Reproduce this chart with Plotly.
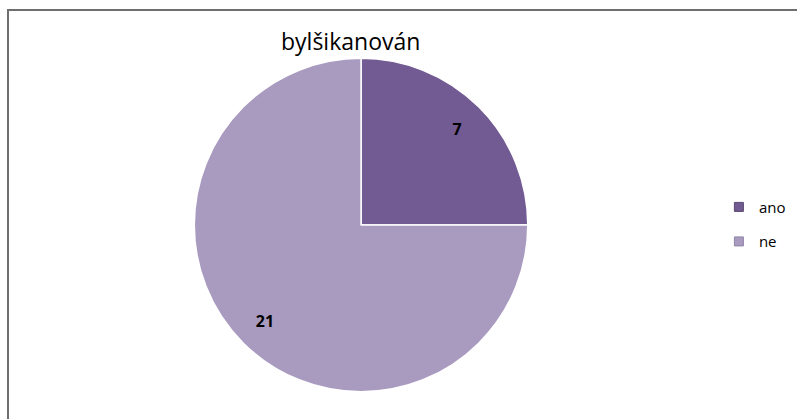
import plotly.graph_objects as go

categories = ["ano", "ne"]
values = [7, 21]
colors = ["#725A92", "#A99BC0"]
title_text = "bylšikanován"

fig = go.Figure()

dom = dict(x=[0.24, 0.666], y=[0.065, 0.861])

# main pie
fig.add_trace(go.Pie(
    labels=categories, values=values, sort=False, direction="clockwise",
    rotation=0, marker=dict(colors=colors, line=dict(color="white", width=1.5)),
    textinfo="none", hoverinfo="label+value", showlegend=False,
    domain=dom,
))

# label ring (transparent) to place the value labels near the outer edge
fig.add_trace(go.Pie(
    labels=categories, values=values, sort=False, direction="clockwise",
    rotation=0, hole=0.63,
    marker=dict(colors=["rgba(0,0,0,0)"] * len(values), line=dict(width=0)),
    textinfo="value", textposition="inside", insidetextorientation="horizontal",
    textfont=dict(family="Open Sans", size=16, color="black", weight="bold"),
    hoverinfo="skip", showlegend=False,
    domain=dom,
))

# legend entries
for i, (c, col) in enumerate(zip(categories, colors)):
    fig.add_trace(go.Scatter(
        x=[None], y=[None], mode="markers", name=c, legendgroup=c,
        marker=dict(symbol="square", size=9, color=col,
                    line=dict(color="#5a4a70" if i == 0 else "#8f84a8", width=1)),
    ))

fig.update_layout(
    width=797, height=419,
    margin=dict(l=0, r=0, t=0, b=0),
    paper_bgcolor="white", plot_bgcolor="white",
    xaxis=dict(visible=False), yaxis=dict(visible=False),
    title=dict(text=title_text, x=0.44, xanchor="center", y=0.9, yanchor="middle",
               font=dict(family="Open Sans", size=23, color="black")),
    legend=dict(x=0.902, y=0.465, xanchor="left", yanchor="middle",
                font=dict(family="Open Sans", size=15, color="black"),
                tracegroupgap=12, itemwidth=30, bgcolor="rgba(0,0,0,0)"),
    shapes=[dict(type="rect", xref="paper", yref="paper",
                 x0=8 / 797, x1=1.02, y0=-0.02, y1=1 - 10 / 419,
                 line=dict(color="#6e6e6e", width=2))],
)

fig.write_html("out.html", config={"displayModeBar": False},
               post_script="document.body.style.margin='0';document.body.style.overflow='hidden';")
